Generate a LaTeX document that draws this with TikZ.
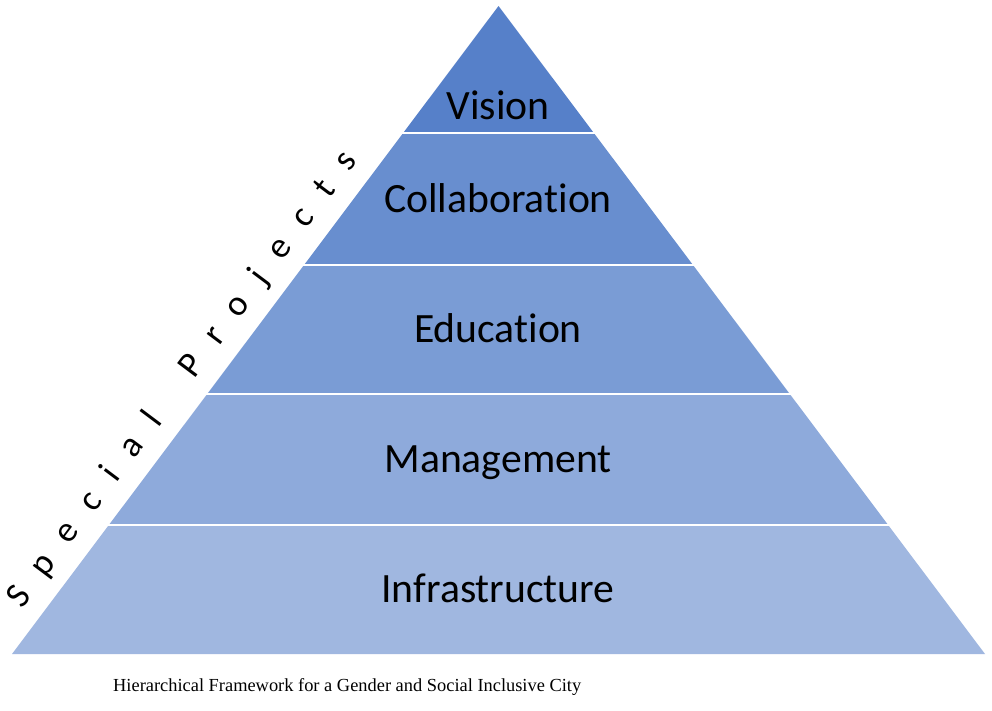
\documentclass[tikz,border=0pt]{standalone}
\usepackage{fontspec}
\setmainfont{Carlito}[Ligatures=NoCommon]
\newfontfamily\capfont{Liberation Serif}
\definecolor{bandA}{RGB}{86,128,201}
\definecolor{bandB}{RGB}{104,142,207}
\definecolor{bandC}{RGB}{122,156,213}
\definecolor{bandD}{RGB}{142,170,219}
\definecolor{bandE}{RGB}{160,183,224}
\tikzset{
  lvl/.style={anchor=base, inner sep=0pt, text=black, font=\fontsize{41.7}{46}\selectfont},
  gap/.style={draw=white, line width=2.5pt},
  splet/.style={anchor=base, rotate=53.13, inner sep=0pt, text=black, font=\fontsize{36}{40}\selectfont},
}
\begin{document}
\begin{tikzpicture}[x=1pt,y=-1pt]
\useasboundingbox (0,0) rectangle (992,710);
\fill[white] (0,0) rectangle (992,710);
% bands
\fill[bandA] (498.5,6) -- (593.85,133) -- (403.15,133) -- cycle;
\fill[bandB] (403.15,133) -- (593.85,133) -- (692.95,265) -- (304.05,265) -- cycle;
\fill[bandC] (304.05,265) -- (692.95,265) -- (789.8,394) -- (207.2,394) -- cycle;
\fill[bandD] (207.2,394) -- (789.8,394) -- (888.15,525) -- (108.85,525) -- cycle;
\fill[bandE] (108.85,525) -- (888.15,525) -- (985,654) -- (12,654) -- cycle;
% separators
\coordinate (s1l) at (395,133); \coordinate (s1r) at (602,133);
\coordinate (s2l) at (296,265); \coordinate (s2r) at (701,265);
\coordinate (s3l) at (199,394); \coordinate (s3r) at (798,394);
\coordinate (s4l) at (100,525); \coordinate (s4r) at (897,525);
\draw[gap] (s1l) -- (s1r);
\draw[gap] (s2l) -- (s2r);
\draw[gap] (s3l) -- (s3r);
\draw[gap] (s4l) -- (s4r);
% labels
\node[lvl] (vision) at (498,119) {Vision};
\node[lvl] (collab) at (498,212) {Collaboration};
\node[lvl] (edu) at (498,342) {Education};
\node[lvl] (mgmt) at (498,472) {Management};
\node[lvl] (infra) at (498,602) {Infrastructure};
% side text, letter by letter along the left edge
\foreach \ch/\a [count=\k] in {S/50, p/89.8, e/130.4, c/169.1, i/202.9, a/237.8, l/272.6,
  P/338.5, r/376.2, o/414.0, j/450.0, e/485.3, c/524.0, t/559.8, s/595.0}
  \node[splet] (sp\k) at ({0.6*\a-2.88},{642.84-0.8*\a}) {\ch};
% caption
\node[anchor=base west, inner sep=0pt, text=black, font=\capfont\fontsize{18.4}{21}\selectfont] (cap) at (113,691) {Hierarchical Framework for a Gender and Social Inclusive City};
\end{tikzpicture}
\end{document}
